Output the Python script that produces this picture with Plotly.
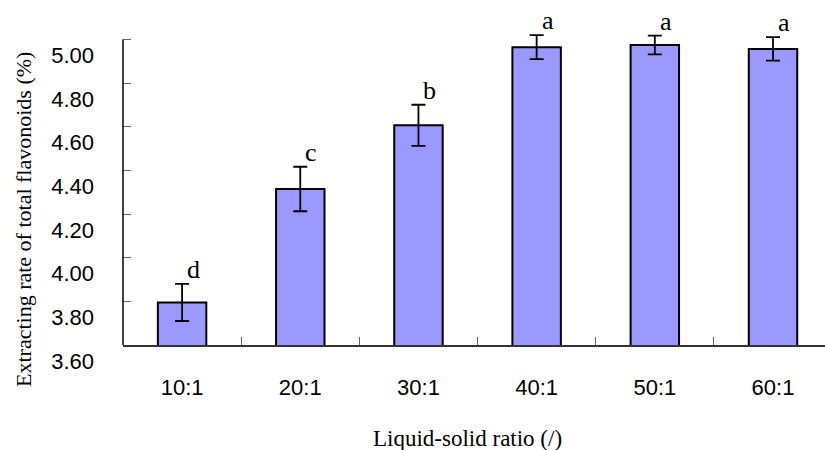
import plotly.graph_objects as go

# Liquid-solid ratio experiment: mean extraction rate with error bars
ratios = ["10:1", "20:1", "30:1", "40:1", "50:1", "60:1"]
rates = [3.795, 4.315, 4.607, 4.965, 4.975, 4.957]
errors = [0.085, 0.102, 0.094, 0.055, 0.043, 0.054]
groups = ["d", "c", "b", "a", "a", "a"]

y_ticks = [3.6, 3.8, 4.0, 4.2, 4.4, 4.6, 4.8, 5.0]
y_min, y_max = 3.6, 5.0

SANS = "Liberation Sans, Arial, sans-serif"
SERIF = "Liberation Serif, Times New Roman, serif"

xpos = list(range(len(ratios)))

W, H = 825, 450
ML, MR, MT, MB = 123, 0, 5, 105
pw, ph = W - ML - MR, H - MT - MB
# keep 218.2 px per unit on the value axis; leave headroom above 5.00
# for the error caps and letters
px_per_unit = 218.2
y_view_top = y_min + ph / px_per_unit

fig = go.Figure()
fig.add_trace(go.Bar(
    x=xpos,
    y=rates,
    width=0.41,
    marker=dict(color="#9999FF", line=dict(color="black", width=2)),
    error_y=dict(type="data", array=errors, visible=True,
                 color="black", thickness=1.8, width=7),
    hoverinfo="skip",
))


def paper_x(px):
    return (px - ML) / pw


def paper_y(py):
    return (H - MB - py) / ph


annotations = []
# significance letters sitting on top of each error bar
for i, (v, e, g) in enumerate(zip(rates, errors, groups)):
    annotations.append(dict(
        x=i, y=v + e, xref="x", yref="y",
        text=g, showarrow=False,
        xanchor="center", yanchor="bottom",
        xshift=11, yshift=-2,
        font=dict(family=SERIF, size=26, color="black"),
    ))

annotations += [
    dict(x=paper_x(467), y=paper_y(438), xref="paper", yref="paper",
         xanchor="center", yanchor="middle",
         text="Liquid-solid ratio (/)", showarrow=False,
         font=dict(family=SERIF, size=23, color="black")),
    dict(x=paper_x(23), y=paper_y(220), xref="paper", yref="paper",
         xanchor="center", yanchor="middle",
         text="Extracting rate of total flavonoids (%)", showarrow=False,
         textangle=-90,
         font=dict(family=SERIF, size=22, color="black")),
]

# value axis line, running only over the labelled range
shapes = [dict(type="line", xref="x domain", yref="y",
               x0=0, x1=0, y0=y_min, y1=y_max,
               line=dict(color="black", width=1.5))]

fig.update_layout(
    width=W, height=H,
    margin=dict(l=ML, r=MR, t=MT, b=MB, pad=0),
    paper_bgcolor="white",
    plot_bgcolor="white",
    showlegend=False,
    annotations=annotations,
    shapes=shapes,
    xaxis=dict(
        range=[-0.5, 5.44],
        tickmode="array", tickvals=xpos, ticktext=ratios,
        ticks="inside", ticklen=0,
        minor=dict(tickmode="array", tickvals=[0.5, 1.5, 2.5, 3.5, 4.5],
                   ticks="inside", ticklen=8, tickwidth=1, tickcolor="#666"),
        showline=True, linecolor="#333", linewidth=1.5,
        showgrid=False, zeroline=False,
        tickfont=dict(family=SANS, size=22, color="black"),
        ticklabelstandoff=22,
    ),
    yaxis=dict(
        range=[y_min, y_view_top],
        tickmode="array", tickvals=y_ticks,
        ticktext=[f"{t:.2f}" for t in y_ticks],
        ticks="inside", ticklen=8, tickwidth=1, tickcolor="#666",
        ticklabelposition="outside bottom",
        showline=False,
        showgrid=False, zeroline=False,
        tickfont=dict(family=SANS, size=22, color="black"),
        ticklabelstandoff=28,
    ),
)

fig.write_html("out.html")
